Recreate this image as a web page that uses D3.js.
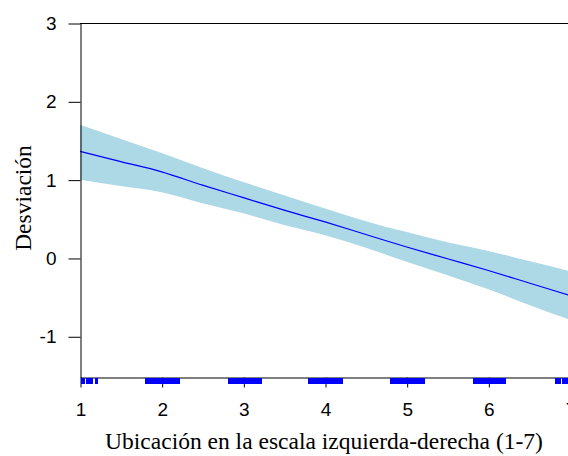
<!DOCTYPE html>
<html>
<head>
<meta charset="utf-8">
<script src="https://cdn.jsdelivr.net/npm/d3@7"></script>
<style>
  html, body { margin: 0; padding: 0; background: #fff; overflow: hidden; }
  svg { display: block; }
</style>
</head>
<body>
<svg id="chart" width="568" height="456"></svg>
<script>
// Smoothed effect of left-right self placement on deviation, with confidence band
const xPoints = [1, 1.5, 2, 2.5, 3, 3.5, 4, 4.5, 5, 5.5, 6, 6.5, 7];
const fitValues = [1.36, 1.23, 1.10, 0.93, 0.77, 0.61, 0.46, 0.30, 0.14, -0.01, -0.16, -0.32, -0.48];
const upperValues = [1.70, 1.52, 1.34, 1.15, 0.97, 0.80, 0.63, 0.47, 0.33, 0.20, 0.09, -0.04, -0.17];
const lowerValues = [1.00, 0.92, 0.84, 0.70, 0.57, 0.42, 0.29, 0.13, -0.05, -0.22, -0.40, -0.60, -0.79];

// Observed (jittered) placements shown as a rug
const rugValues = [
  1.02, 1.03, 1.04, 1.05, 1.09, 1.115, 1.125, 1.15, 1.195, 1.21,
  1.81, 1.82, 1.83, 1.86, 1.88, 1.89, 1.91, 1.93, 1.94, 1.96, 1.98, 1.99, 2.01, 2.03, 2.04, 2.06, 2.08, 2.09, 2.11, 2.13, 2.14, 2.16, 2.18, 2.19, 2.21,
  2.82, 2.84, 2.85, 2.87, 2.89, 2.90, 2.92, 2.94, 2.95, 2.97, 2.99, 3.00, 3.02, 3.04, 3.05, 3.07, 3.09, 3.10, 3.12, 3.14, 3.15, 3.17, 3.19, 3.20, 3.22,
  3.81, 3.83, 3.84, 3.86, 3.88, 3.89, 3.91, 3.93, 3.94, 3.96, 3.98, 3.99, 4.01, 4.03, 4.04, 4.06, 4.08, 4.09, 4.11, 4.13, 4.14, 4.16, 4.18, 4.19, 4.21,
  4.81, 4.83, 4.84, 4.86, 4.88, 4.89, 4.91, 4.93, 4.94, 4.96, 4.98, 4.99, 5.01, 5.03, 5.04, 5.06, 5.08, 5.09, 5.11, 5.13, 5.14, 5.16, 5.18, 5.19, 5.21,
  5.82, 5.84, 5.85, 5.87, 5.89, 5.90, 5.92, 5.94, 5.95, 5.97, 5.99, 6.00, 6.02, 6.04, 6.05, 6.07, 6.09, 6.10, 6.12, 6.14, 6.15, 6.17, 6.19, 6.20, 6.21,
  6.825, 6.85, 6.877, 6.91, 6.93, 6.95, 6.97, 6.99
];

const xTicks = [1, 2, 3, 4, 5, 6, 7];
const yTicks = [-1, 0, 1, 2, 3];
const xTitle = "Ubicación en la escala izquierda-derecha (1-7)";
const yTitle = "Desviación";

const svg = d3.select("#chart");
const x = d3.scaleLinear().domain([1, 7]).range([80, 570]);
const y = d3.scaleLinear().domain([-1.52, 3]).range([377, 23]);

const rows = xPoints.map((v, i) => ({ x: v, fit: fitValues[i], lo: lowerValues[i], hi: upperValues[i] }));

// confidence band
svg.append("path")
  .datum(rows)
  .attr("fill", "#add8e6")
  .attr("d", d3.area()
    .x(d => x(d.x))
    .y0(d => y(d.lo))
    .y1(d => y(d.hi))
    .curve(d3.curveMonotoneX));

// fitted line
svg.append("path")
  .datum(rows)
  .attr("fill", "none")
  .attr("stroke", "#0000ff")
  .attr("stroke-width", 1.2)
  .attr("d", d3.line()
    .x(d => x(d.x))
    .y(d => y(d.fit))
    .curve(d3.curveMonotoneX));

// top frame line
svg.append("line")
  .attr("x1", 80).attr("x2", 570)
  .attr("y1", y(3) + 0.5).attr("y2", y(3) + 0.5)
  .attr("stroke", "#000").attr("stroke-width", 1);

const tickFont = "'Liberation Sans', Arial, sans-serif";

// y axis (plain hyphen for negatives)
const yAxis = svg.append("g")
  .attr("transform", "translate(80.5,0.5)")
  .call(d3.axisLeft(y).tickValues(yTicks).tickSize(12).tickSizeOuter(0).tickPadding(12).tickFormat(d => String(d)));
yAxis.selectAll("text").attr("font-family", tickFont).attr("font-size", 19).attr("fill", "#000");
yAxis.selectAll("line, path").attr("stroke", "#000");

// x axis
const xAxis = svg.append("g")
  .attr("transform", "translate(0.5,377.5)")
  .call(d3.axisBottom(x).tickValues(xTicks).tickSize(10).tickSizeOuter(0).tickPadding(15).tickFormat(d => String(d)));
xAxis.selectAll("text").attr("font-family", tickFont).attr("font-size", 19).attr("fill", "#000");
xAxis.selectAll("line, path").attr("stroke", "#000");

// rug
svg.append("g")
  .attr("shape-rendering", "crispEdges")
  .selectAll("line")
  .data(rugValues)
  .join("line")
  .attr("x1", d => x(d)).attr("x2", d => x(d))
  .attr("y1", 378).attr("y2", 384)
  .attr("stroke", "#0000ff")
  .attr("stroke-width", 2);

// axis titles
svg.append("text")
  .attr("x", 324).attr("y", 449)
  .attr("text-anchor", "middle")
  .attr("font-family", "'Liberation Serif', 'Times New Roman', serif")
  .attr("font-size", 23.5)
  .text(xTitle);

svg.append("text")
  .attr("transform", "translate(31,198) rotate(-90)")
  .attr("text-anchor", "middle")
  .attr("font-family", "'Liberation Serif', 'Times New Roman', serif")
  .attr("font-size", 23.5)
  .text(yTitle);
</script>
</body>
</html>
